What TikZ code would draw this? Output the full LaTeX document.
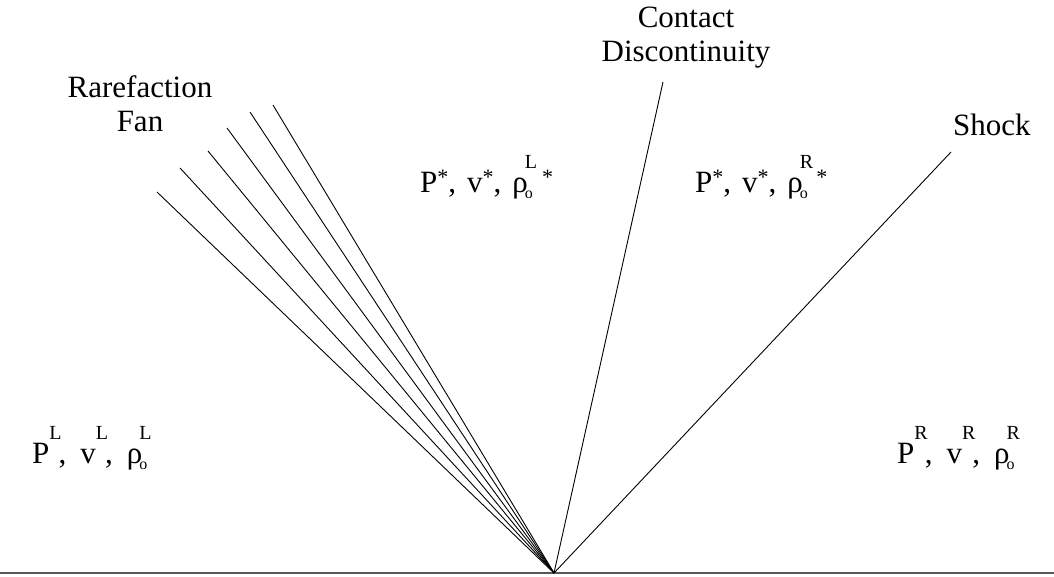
\documentclass[tikz,border=0pt]{standalone}
\usepackage{fontspec}
\setmainfont{Liberation Serif}
\newcommand\hsup[1]{\raisebox{24pt}{\fontsize{20}{20}\selectfont #1}}
\newcommand\ssup{\raisebox{8pt}{\fontsize{22}{22}\selectfont *}}
\newcommand\rhoo[1]{ρ\kern-3pt\rlap{\raisebox{-6pt}{\fontsize{16}{16}\selectfont o}}\hsup{#1}}
\begin{document}
\begin{tikzpicture}[x=1pt,y=-1pt,
  lbl/.style={inner sep=0pt, font=\fontsize{31}{34}\selectfont},
  wave/.style={line width=0.9pt, black},
  ground/.style={line width=1.6pt, black!65}]
\useasboundingbox (0,0) rectangle (1054,576);
% coordinates
\coordinate (apex) at (554,573);
\coordinate (gl) at (0,573);
\coordinate (gr) at (1054,573);
\coordinate (f1) at (157,192);
\coordinate (f2) at (180,168);
\coordinate (f3) at (208,151);
\coordinate (f4) at (227,128);
\coordinate (f5) at (250,112);
\coordinate (f6) at (273,105);
\coordinate (cd) at (663,82);
\coordinate (sh) at (951,152);
% lines
\draw[ground] (gl) -- (gr);
\foreach \f in {f1,f2,f3,f4,f5,f6} \draw[wave] (apex) -- (\f);
\draw[wave] (apex) -- (cd);
\draw[wave] (apex) -- (sh);
% titles (base anchor = baseline of the last line)
\node[lbl, align=center, anchor=base] (rare) at (140,131) {Rarefaction\\Fan};
\node[lbl, align=center, anchor=base] (cont) at (686,61) {Contact\\Discontinuity};
\node[lbl, anchor=base west] (shock) at (953,135) {Shock};
% states
\node[lbl, anchor=base west] (starL) at (420,192) {P\ssup,\hspace{11pt}v\ssup,\hspace{11pt}\rhoo{L}\kern5pt\ssup};
\node[lbl, anchor=base west] (starR) at (695,192) {P\ssup,\hspace{11pt}v\ssup,\hspace{11pt}\rhoo{R}\kern3pt\ssup};
\node[lbl, anchor=base west] (left) at (32,463) {P\hsup{L}\kern-3pt,\hspace{14pt}v\hsup{L}\kern-3pt,\hspace{14pt}\rhoo{L}};
\node[lbl, anchor=base west] (right) at (897,463) {P\hsup{R}\kern-3pt,\hspace{14pt}v\hsup{R}\kern-3pt,\hspace{14pt}\rhoo{R}};
\end{tikzpicture}
\end{document}
